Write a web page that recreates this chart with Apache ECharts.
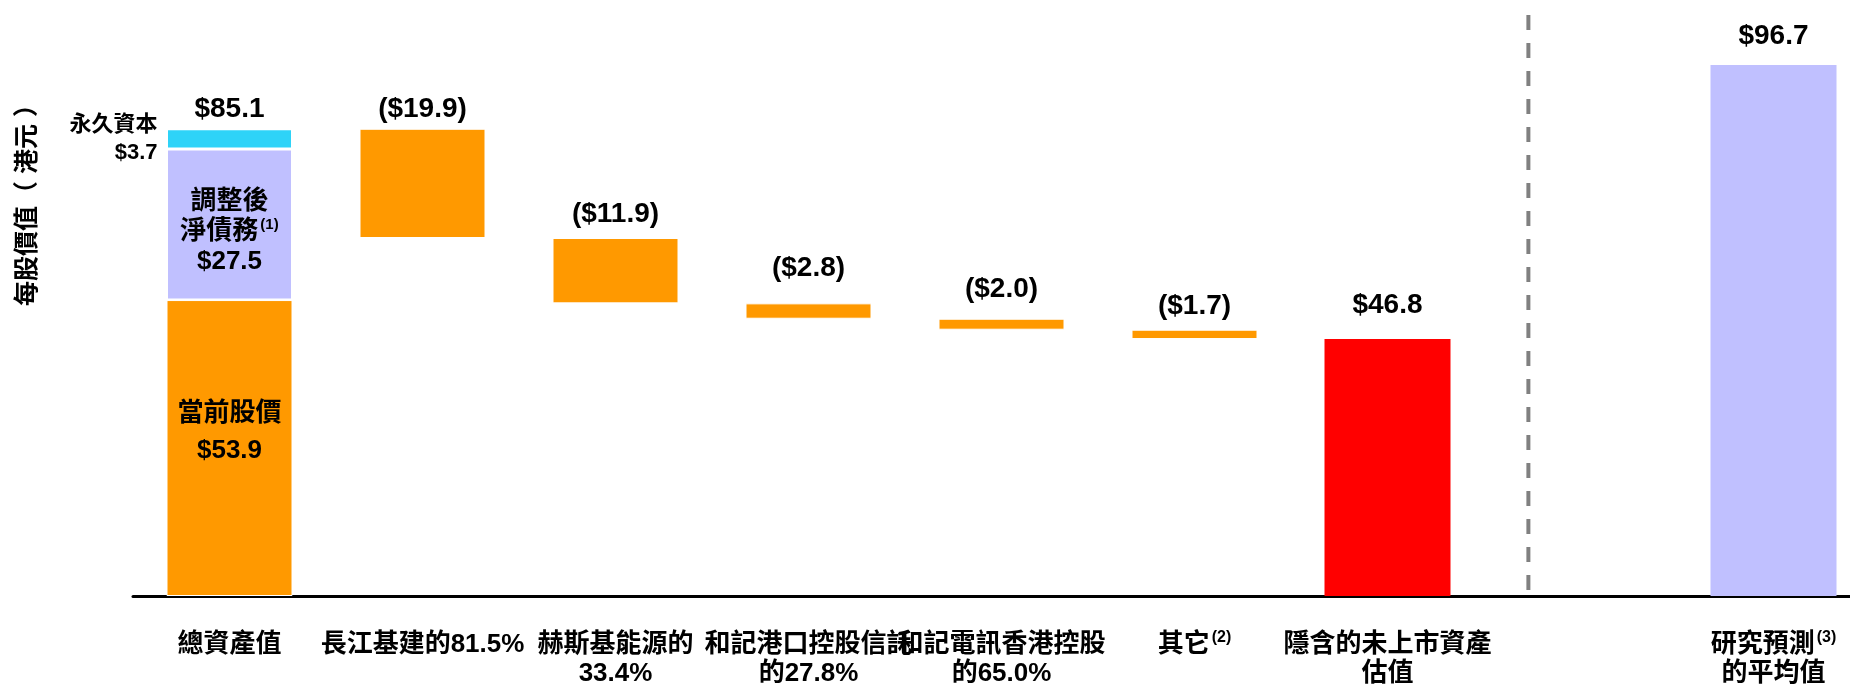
<!DOCTYPE html>
<html lang="zh-Hant">
<head>
    <meta charset="utf-8">
    <title>每股價值</title>
    <script src="https://cdn.jsdelivr.net/npm/echarts@6/dist/echarts.min.js"></script>
    <style>
        html, body { margin: 0; padding: 0; background: #fff; }
        #main { width: 1850px; height: 684px; }
    </style>
</head>
<body>
<div id="main"></div>
<script type="text/javascript">
    // categories (index 7 is the empty slot next to the dashed separator)
    var categories = ['總資產值', '長江基建的81.5%', '赫斯基能源的\n33.4%', '和記港口控股信託\n的27.8%',
        '和記電訊香港控股\n的65.0%', '其它(2)', '隱含的未上市資產\n估值', '', '研究預測(3)\n的平均值'];

    // first column: current share price + adjusted net debt + perpetual capital
    var currentPrice = 53.9;
    var netDebt = 27.5;
    var perpetualCapital = 3.7;
    var totalAssets = 85.1;

    // waterfall steps
    var deductions = [19.9, 11.9, 2.8, 2.0, 1.7];
    var impliedValue = 46.8;
    var analystAverage = 96.7;

    // where the dashed separator sits, in category units
    var separatorAt = 6.73;

    // label gap above each bar top (layout only)
    var labelGap = [5, 5, 9, 21, 15, 9, 19, 0, 14];

    var font = "'Liberation Sans', Arial, 'Noto Sans CJK TC', sans-serif";
    var n = categories.length;

    function empty() {
        var a = [];
        for (var i = 0; i < n; i++) a.push('-');
        return a;
    }

    var base = empty(), drop = empty(), debt = empty(), perp = empty(), implied = empty(), analyst = empty();
    var tops = empty(), topText = [];
    for (var i = 0; i < n; i++) topText.push('');

    drop[0] = currentPrice;
    debt[0] = netDebt;
    perp[0] = perpetualCapital;
    tops[0] = totalAssets;
    topText[0] = '$' + totalAssets.toFixed(1);

    var running = totalAssets;
    deductions.forEach(function (d, k) {
        tops[k + 1] = running;
        topText[k + 1] = '($' + d.toFixed(1) + ')';
        running = +(running - d).toFixed(1);
        base[k + 1] = running;
        drop[k + 1] = d;
    });
    implied[6] = impliedValue;
    tops[6] = impliedValue;
    topText[6] = '$' + impliedValue.toFixed(1);
    analyst[8] = analystAverage;
    tops[8] = analystAverage;
    topText[8] = '$' + analystAverage.toFixed(1);

    var chart = echarts.init(document.getElementById('main'));

    var supStyle = { fontSize: 15, fontWeight: 'bold', fontFamily: font, color: '#000', verticalAlign: 'top', lineHeight: 18, padding: [0, 0, 0, 2] };

    var option = {
        animation: false,
        backgroundColor: '#fff',
        textStyle: { fontFamily: font },
        grid: { left: 133, width: 1737, top: 14, bottom: 88, containLabel: false, outerBoundsMode: 'none' },
        xAxis: [{
            type: 'category',
            data: categories,
            axisLine: { lineStyle: { color: '#000', width: 3 } },
            axisTick: { show: false },
            axisLabel: {
                interval: 0,
                margin: 34,
                fontSize: 26,
                fontWeight: 'bold',
                color: '#000',
                lineHeight: 29,
                fontFamily: font,
                formatter: function (v) {
                    return v.replace(/\((\d)\)/, '{sup|($1)}');
                },
                rich: { sup: { fontSize: 16, fontWeight: 'bold', fontFamily: font, color: '#000', verticalAlign: 'top', lineHeight: 14, padding: [0, 0, 0, 2] } }
            }
        }, {
            type: 'value',
            min: -0.5,
            max: 8.5,
            show: false
        }],
        yAxis: {
            type: 'value',
            min: 0,
            max: 106,
            show: false
        },
        graphic: [{
            type: 'text',
            x: 28,
            y: 199,
            rotation: Math.PI / 2,
            style: {
                text: '每股價值（ 港元 ）',
                font: 'bold 25px ' + font,
                fill: '#000',
                align: 'center',
                verticalAlign: 'middle'
            }
        }],
        series: [{
            name: 'base',
            type: 'bar',
            stack: 'w',
            barWidth: 126,
            itemStyle: { color: 'transparent' },
            data: base
        }, {
            name: 'drop',
            type: 'bar',
            stack: 'w',
            itemStyle: { color: '#FF9900', borderColor: '#fff', borderWidth: 1 },
            data: drop.map(function (v, k) {
                if (k !== 0) return v;
                return {
                    value: v,
                    label: {
                        show: true,
                        position: 'insideTop',
                        distance: 95,
                        formatter: '當前股價\n$' + currentPrice.toFixed(1),
                        fontSize: 26,
                        fontWeight: 'bold',
                        lineHeight: 37,
                        color: '#000'
                    }
                };
            })
        }, {
            name: 'debt',
            type: 'bar',
            stack: 'w',
            itemStyle: { color: '#C0C0FF', borderColor: '#fff', borderWidth: 1.5 },
            label: {
                show: true,
                position: 'insideTop',
                distance: 38,
                formatter: '調整後\n淨債務{sup|(1)}\n$' + netDebt.toFixed(1),
                fontSize: 26,
                fontWeight: 'bold',
                lineHeight: 30,
                color: '#000',
                rich: { sup: supStyle }
            },
            data: debt
        }, {
            name: 'perp',
            type: 'bar',
            stack: 'w',
            itemStyle: { color: '#2ED3F8', borderColor: '#fff', borderWidth: 1.5 },
            label: {
                show: true,
                position: 'left',
                distance: 9,
                align: 'right',
                formatter: '永久資本\n$' + perpetualCapital.toFixed(1),
                fontSize: 22,
                fontWeight: 'bold',
                lineHeight: 28,
                color: '#000'
            },
            data: perp
        }, {
            name: 'implied',
            type: 'bar',
            stack: 'w',
            itemStyle: { color: '#FF0000' },
            data: implied
        }, {
            name: 'analyst',
            type: 'bar',
            stack: 'w',
            itemStyle: { color: '#C0C0FF' },
            data: analyst
        }, {
            name: 'tops',
            type: 'scatter',
            symbolSize: 1,
            itemStyle: { color: 'rgba(0,0,0,0)', opacity: 1 },
            data: tops.map(function (v, k) {
                return {
                    value: v,
                    label: { distance: labelGap[k], color: '#000' }
                };
            }),
            label: {
                show: true,
                position: 'top',
                fontSize: 28,
                fontWeight: 'bold',
                color: '#000',
                textBorderWidth: 0,
                formatter: function (p) { return topText[p.dataIndex]; }
            },
            z: 5
        }, {
            name: 'separator',
            type: 'line',
            xAxisIndex: 1,
            symbol: 'none',
            silent: true,
            lineStyle: { color: '#808080', width: 4, type: [15, 13] },
            data: [[separatorAt, 1.1], [separatorAt, 106]]
        }]
    };

    chart.setOption(option);
</script>
</body>
</html>
